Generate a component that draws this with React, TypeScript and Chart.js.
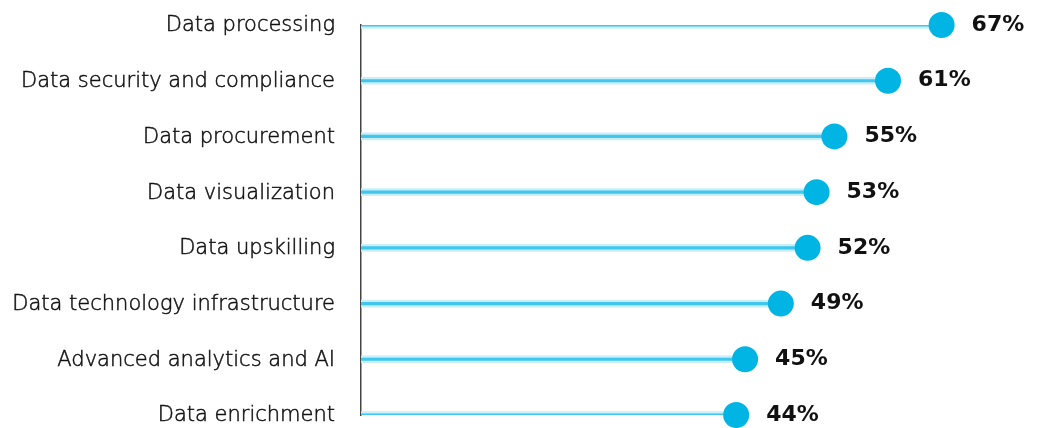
import React, { useEffect, useRef } from "react";
import { Chart, registerables } from "chart.js";

Chart.register(...registerables);

const categories = [
  "Data processing",
  "Data security and compliance",
  "Data procurement",
  "Data visualization",
  "Data upskilling",
  "Data technology infrastructure",
  "Advanced analytics and AI",
  "Data enrichment",
];
const values = [67, 61, 55, 53, 52, 49, 45, 44];

const DOT = "#00b4e4";
const BAND = "#c9eef9";
const CORE = "#3fc7ee";

const valueLabels = {
  id: "valueLabels",
  afterDatasetsDraw(chart: any) {
    const meta = chart.getDatasetMeta(0);
    const ctx = chart.ctx;
    ctx.save();
    ctx.font = "bold 22px 'DejaVu Sans', sans-serif";
    ctx.fillStyle = "#111111";
    ctx.textAlign = "left";
    ctx.textBaseline = "middle";
    meta.data.forEach((pt: any, i: number) => {
      ctx.fillText(values[i] + "%", pt.x + 30, pt.y);
    });
    ctx.restore();
  },
};

export default function App() {
  const ref = useRef<HTMLCanvasElement>(null);
  useEffect(() => {
    if (!ref.current) return;
    const chart = new Chart(ref.current, {
      type: "bar",
      data: {
        labels: categories,
        datasets: [
          {
            type: "line",
            data: values,
            indexAxis: "y",
            showLine: false,
            pointRadius: 13,
            pointHoverRadius: 13,
            pointBackgroundColor: DOT,
            pointBorderWidth: 0,
            borderColor: DOT,
            backgroundColor: DOT,
            clip: false,
            order: 0,
          } as any,
          {
            type: "bar",
            data: values,
            base: 2,
            backgroundColor: CORE,
            barThickness: 2.5,
            grouped: false,
            order: 1,
          } as any,
          {
            type: "bar",
            data: values,
            base: 2,
            backgroundColor: BAND,
            barThickness: 7,
            grouped: false,
            order: 2,
          } as any,
        ],
      },
      options: {
        indexAxis: "y",
        animation: false,
        responsive: true,
        maintainAspectRatio: false,
        layout: { padding: { left: 0, right: 16, top: 25, bottom: 11 } },
        plugins: {
          legend: { display: false },
          tooltip: { enabled: false },
        },
        scales: {
          x: {
            type: "linear",
            min: 2,
            max: 76,
            display: false,
          },
          y: {
            type: "category",
            offset: false,
            grid: { display: false, drawTicks: false },
            border: { display: true, color: "#444444", width: 1.5 },
            ticks: {
              padding: 26,
              labelOffset: 1,
              color: "#111111",
              textStrokeColor: "#111111",
              textStrokeWidth: 0.5,
              font: { family: "'DejaVu Sans', sans-serif", size: 21, weight: "300" as any },
            },
            afterFit: (s: any) => {
              s.width = 361;
              s.paddingTop = 0;
              s.paddingBottom = 0;
            },
          },
        },
      } as any,
      plugins: [valueLabels],
    });
    return () => chart.destroy();
  }, []);
  return (
    <div style={{ position: "absolute", left: 0, top: 0, width: 1038, height: 428, background: "#fff" }}>
      <canvas ref={ref} />
    </div>
  );
}
